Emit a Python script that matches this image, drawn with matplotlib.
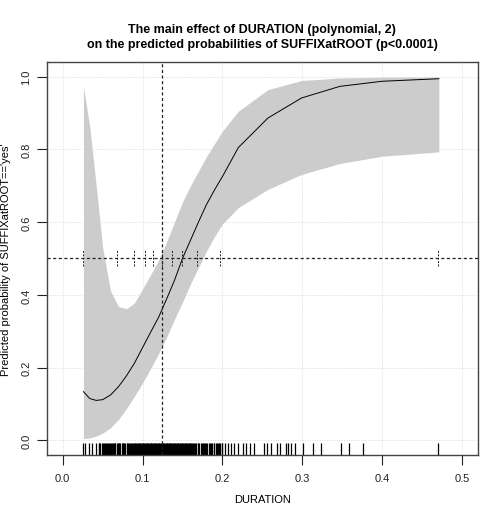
import numpy as np
import matplotlib
matplotlib.use("Agg")
from matplotlib import pyplot as plt

# effect curve
dur = [0.026, 0.034, 0.042, 0.050, 0.060, 0.070, 0.080, 0.090, 0.100, 0.110,
       0.120, 0.130, 0.140, 0.150, 0.160, 0.170, 0.180, 0.190, 0.200, 0.220,
       0.257, 0.299, 0.347, 0.400, 0.471]
fit = [0.134, 0.115, 0.110, 0.112, 0.125, 0.148, 0.178, 0.213, 0.255, 0.297,
       0.338, 0.388, 0.440, 0.500, 0.550, 0.600, 0.648, 0.688, 0.725, 0.805,
       0.886, 0.941, 0.973, 0.987, 0.994]
lower = [0.005, 0.007, 0.012, 0.020, 0.035, 0.058, 0.088, 0.122, 0.158, 0.197,
         0.238, 0.283, 0.333, 0.380, 0.430, 0.475, 0.520, 0.560, 0.595, 0.640,
         0.690, 0.731, 0.761, 0.781, 0.793]
upper = [0.973, 0.860, 0.700, 0.530, 0.410, 0.368, 0.362, 0.378, 0.416, 0.455,
         0.495, 0.545, 0.600, 0.655, 0.700, 0.740, 0.780, 0.815, 0.850, 0.905,
         0.964, 0.989, 0.996, 0.998, 0.999]

# points marked on the 0.5 line
marks = [0.025, 0.068, 0.089, 0.103, 0.113, 0.124, 0.137, 0.149, 0.168, 0.197, 0.4705]
mean_dur = 0.124

# observed durations (ms) for the rug
rug_ms = [26, 28, 33, 37, 42,
          45, 46, 47, 49, 50, 52, 53, 54, 55, 57, 58, 59, 60, 62, 63, 64, 65, 66,
          68, 69, 70, 71, 72, 74, 75, 76, 77, 78, 80, 81, 82, 83, 84, 86, 87, 88,
          89, 90, 91, 92, 93, 94, 95,
          96, 97, 98, 99, 100, 101, 102, 103, 104, 105, 106, 107, 108, 109, 110,
          111, 112, 113, 114, 115, 116, 117, 118, 119, 120, 121, 122, 123, 124,
          125, 126, 127, 128, 129, 130, 131, 132, 133, 134, 135, 136, 137, 138,
          139, 140, 141, 142, 143, 144, 145, 146, 147, 148, 149, 150, 151, 152,
          153, 154, 155, 156, 157, 158, 159, 160,
          161, 162, 163, 165, 166, 167, 169, 170, 171, 173, 174, 176, 177, 178,
          180, 181, 183, 184, 186, 187, 189, 190, 192, 193, 195, 196, 197, 199, 200,
          203, 207, 211, 215, 220, 226, 230, 234, 240, 252, 256, 261, 268, 272,
          280, 282, 286, 291, 301, 314, 324, 349, 359, 376, 470]

xticks = [0.0, 0.1, 0.2, 0.3, 0.4, 0.5]
yticks = [0.0, 0.2, 0.4, 0.6, 0.8, 1.0]

plt.rcParams['font.family'] = ['Liberation Sans', 'DejaVu Sans']

fig = plt.figure(figsize=(4.83, 5.10), dpi=100)
ax = fig.add_axes([0.0967, 0.1059, 0.8929, 0.7706])

ax.set_xlim(-0.02, 0.52)
ax.set_ylim(-0.04, 1.04)

for v in xticks:
    ax.axvline(v, color='#dcdcdc', lw=0.7, ls=(0, (1, 1.5)), zorder=0)
for v in yticks:
    ax.axhline(v, color='#dcdcdc', lw=0.7, ls=(0, (1, 1.5)), zorder=0)

ax.fill_between(dur, lower, upper, color='#cccccc', lw=0, zorder=1)
ax.plot(dur, fit, color='black', lw=0.7, zorder=3)

ax.axvline(mean_dur, color='#222222', lw=0.9, ls=(0, (2.5, 2)), zorder=4)
ax.axhline(0.5, color='#222222', lw=0.9, ls=(0, (2.5, 2)), zorder=4)
ax.vlines(marks, 0.478, 0.522, color='#222222', lw=0.7, linestyles=(0, (2, 1.5)), zorder=4)

rug = np.array(rug_ms) / 1000.0
ax.vlines(rug, -0.04, -0.007, color='black', lw=0.9, zorder=2)

ax.set_xticks(xticks)
ax.set_xticklabels(['0.0', '0.1', '0.2', '0.3', '0.4', '0.5'])
ax.set_yticks(yticks)
ax.set_yticklabels(['0.0', '0.2', '0.4', '0.6', '0.8', '1.0'], rotation=90, va='center')
ax.tick_params(direction='out', length=7, width=0.8, labelsize=8, colors='#222222')
ax.tick_params(axis='y', pad=4)
ax.tick_params(axis='x', pad=6)
for s in ax.spines.values():
    s.set_color('#444444')
    s.set_linewidth(1.0)

fig.text(0.543, 1 - 30 / 510, 'The main effect of DURATION (polynomial, 2)',
         ha='center', va='center', fontsize=9, fontweight='bold')
fig.text(0.543, 1 - 45 / 510, 'on the predicted probabilities of SUFFIXatROOT (p<0.0001)',
         ha='center', va='center', fontsize=9, fontweight='bold')
fig.text(0.543, 1 - 500 / 510, 'DURATION', ha='center', va='center', fontsize=8)
fig.text(6 / 483, 0.491, "Predicted probability of SUFFIXatROOT=='yes'",
         ha='center', va='center', rotation=90, fontsize=8)

fig.savefig('out.png', dpi=100)
